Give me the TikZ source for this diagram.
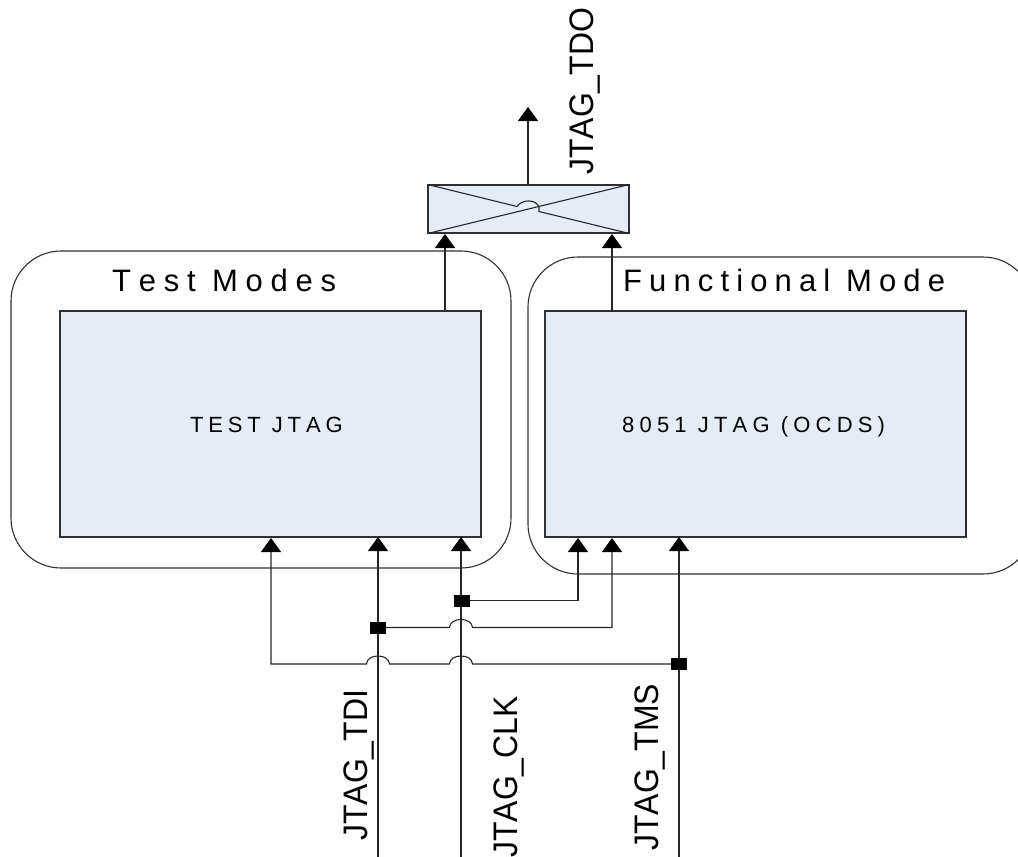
\documentclass[tikz,border=0pt]{standalone}
\usepackage{fontspec}
\setmainfont[Kerning=Off]{Liberation Sans}
\newfontfamily\sigfont[Kerning=Off,FakeStretch=0.94]{Liberation Sans}
\newfontfamily\spacedA[LetterSpace=25,Kerning=Off]{Liberation Sans}
\newfontfamily\spacedD[LetterSpace=23,Kerning=Off]{Liberation Sans}
\newfontfamily\spacedB[LetterSpace=22,Kerning=Off]{Liberation Sans}
\newfontfamily\spacedC[LetterSpace=23.5,Kerning=Off]{Liberation Sans}
\usetikzlibrary{arrows.meta,calc}
\definecolor{boxfill}{HTML}{E6ECF6}
\definecolor{edge}{HTML}{303030}
\tikzset{
  wire/.style={line width=1.1pt,draw=black!85},
  arr/.style={wire,-{Triangle[width=20pt,length=14pt,fill=black,color=black]}},
  frame/.style={draw=edge,line width=1.1pt,rounded corners=50pt},
  blockbox/.style={draw=edge,line width=1.1pt,fill=boxfill},
  joint/.style={draw=none,fill=black,rectangle,minimum width=16pt,minimum height=12pt,inner sep=0pt},
  title/.style={anchor=base west,inner sep=0pt},
  inner/.style={anchor=base west,inner sep=0pt},
  sig/.style={font=\sigfont\fontsize{34pt}{34pt}\selectfont,rotate=90,anchor=base west,inner sep=0pt}
}
\newcommand{\hopR}[1]{-- ([xshift=-11.5pt]#1) .. controls +(0.5,-10.7) and +(-0.5,-10.7) .. ([xshift=11.5pt]#1)}
\newcommand{\hopL}[1]{-- ([xshift=11.5pt]#1) .. controls +(-0.5,-10.7) and +(0.5,-10.7) .. ([xshift=-11.5pt]#1)}
\begin{document}
\begin{tikzpicture}[x=1pt,y=-1pt]
\useasboundingbox (0,0) rectangle (1018,857);
\clip (0,0) rectangle (1018,857);
% frames
\draw[frame] (11,251) rectangle (511,568);
\draw[frame] (528,257) rectangle (1033,574);
% blocks
\path[blockbox] (60,311) rectangle (481,537);
\path[blockbox] (545,311) rectangle (966,537);
\coordinate (testS) at (270.5,537);
\coordinate (funcS) at (755.5,537);
\coordinate (testN) at (270.5,311);
\coordinate (funcN) at (755.5,311);
\node[inner,font=\spacedB\fontsize{22pt}{22pt}\selectfont] (testlabel) at (190,432) {TEST JTAG};
\node[inner,font=\spacedC\fontsize{22pt}{22pt}\selectfont] (funclabel) at (622,432) {8051 JTAG (OCDS)};
\node[title,font=\spacedA\fontsize{31pt}{31pt}\selectfont] (testtitle) at (112,291) {Test Modes};
\node[title,font=\spacedD\fontsize{31pt}{31pt}\selectfont] (functitle) at (623,291) {Functional Mode};
% mux
\node[blockbox,minimum width=201pt,minimum height=48pt,inner sep=0pt] (mux) at (528.5,209) {};
\draw[wire] (mux.south west) -- (mux.north east);
\draw[wire] (mux.north west) -- (517,206.5) .. controls (522,199) and (536,199) .. (539,207) -- (539,211.5) -- (mux.south east);
% output
\coordinate (tdoEnd) at (528,107);
\draw[arr] (mux.north -| tdoEnd) -- (tdoEnd);
\node[sig] (tdo) at (593,175) {JTAG\_TDO};
% mux inputs
\coordinate (muxA) at (445,234);
\coordinate (muxB) at (612,234);
\draw[arr] (testN -| muxA) -- (muxA);
\draw[arr] (funcN -| muxB) -- (muxB);
% rails
\coordinate (tdiEnd) at (378,857);
\coordinate (clkEnd) at (461,857);
\coordinate (tmsEnd) at (679,857);
\node[sig] (tdi) at (367,841) {JTAG\_TDI};
\node[sig] (clk) at (517,858) {JTAG\_CLK};
\node[sig] (tms) at (658,851) {JTAG\_TMS};
\draw[arr] (tdiEnd) -- (testS -| tdiEnd);
\draw[arr] (clkEnd) -- (testS -| clkEnd);
\draw[arr] (tmsEnd) -- (funcS -| tmsEnd);
% joints
\node[joint] (jclk) at (461.5,600.5) {};
\node[joint] (jtdi) at (378,627.5) {};
\node[joint] (jtms) at (679,664) {};
% branches
\coordinate (fa) at (578,538);
\coordinate (fb) at (612,538);
\coordinate (ta) at (271,538);
\coordinate (hopA) at (461,627.5);
\coordinate (hopB) at (378,664);
\coordinate (hopC) at (461,664);
\draw[arr] (jclk.east) -| (fa);
\draw[arr] (jtdi.east) \hopR{hopA} -| (fb);
\draw[arr] (jtms.west) \hopL{hopC} \hopL{hopB} -| (ta);
\end{tikzpicture}
\end{document}
